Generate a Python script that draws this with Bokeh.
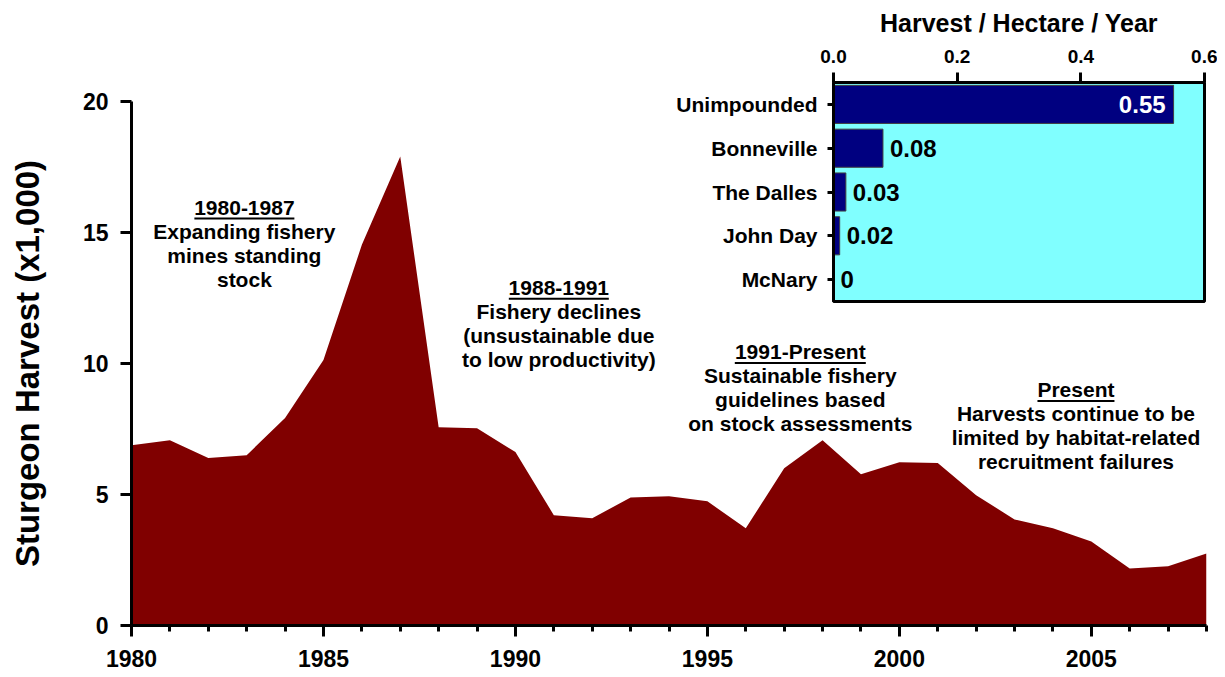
from bokeh.plotting import figure
from bokeh.models import (Range1d, FactorRange, SingleIntervalTicker, FixedTicker,
                          ColumnDataSource, PrintfTickFormatter)
from bokeh.layouts import column, row
from bokeh.core.properties import value
from bokeh.embed import file_html
from bokeh.resources import INLINE

# ---------------- data ----------------
years = list(range(1980, 2009))
harvest = [6.88, 7.07, 6.39, 6.50, 7.92, 10.13, 14.53, 17.90, 7.57, 7.53,
           6.62, 4.21, 4.09, 4.89, 4.93, 4.74, 3.71, 6.00, 7.07, 5.77,
           6.23, 6.20, 4.97, 4.05, 3.71, 3.21, 2.18, 2.26, 2.75]

reaches = ["Unimpounded", "Bonneville", "The Dalles", "John Day", "McNary"]
rate = [0.55, 0.08, 0.02, 0.01, 0.0]
rate_labels = ["0.55", "0.08", "0.03", "0.02", "0"]

note_headers = ["1980-1987", "1988-1991", "1991-Present", "Present"]
note_bodies = [["Expanding fishery", "mines standing", "stock"],
               ["Fishery declines", "(unsustainable due", "to low productivity)"],
               ["Sustainable fishery", "guidelines based", "on stock assessments"],
               ["Harvests continue to be", "limited by habitat-related", "recruitment failures"]]
note_x = [1982.94, 1991.13, 1997.42, 2004.6]
note_y = [15.95, 12.89, 10.44, 8.99]
header_width_px = [100, 100, 131, 77]

FONT = value("Liberation Sans")

# ---------------- main chart ----------------
W, H = 1217, 677
MB_L, MB_R, MB_T = 131, 11, 101
MB_B = H - 625
p = figure(width=W, height=H, x_range=Range1d(1980, 2008), y_range=Range1d(0, 20),
           output_backend="svg", toolbar_location=None,
           min_border_left=MB_L, min_border_right=MB_R,
           min_border_top=MB_T, min_border_bottom=MB_B)
p.outline_line_color = None
p.xgrid.visible = False
p.ygrid.visible = False
p.background_fill_color = "white"
p.border_fill_color = "white"

p.varea(x=years, y1=[0] * len(years), y2=harvest, fill_color="#800000")

px_per_year = (W - MB_L - MB_R) / 28.0
px_per_unit = (H - MB_T - MB_B) / 20.0

# annotations
xs, ys, ts = [], [], []
ux0, ux1, uy = [], [], []
for hdr, body, cx, cy, w in zip(note_headers, note_bodies, note_x, note_y, header_width_px):
    lines = [hdr] + body
    for i, t in enumerate(lines):
        xs.append(cx)
        ys.append(cy - i * 23.8 / px_per_unit)
        ts.append(t)
    ux0.append(cx - w / 2 / px_per_year)
    ux1.append(cx + w / 2 / px_per_year)
    uy.append(cy - 11 / px_per_unit)
p.text(x=xs, y=ys, text=ts, text_font=FONT, text_font_style="bold",
       text_font_size="21px", text_align="center", text_baseline="middle",
       text_color="black")
p.segment(x0=ux0, y0=uy, x1=ux1, y1=uy, line_color="black", line_width=2)

xa = p.xaxis[0]
xa.ticker = SingleIntervalTicker(interval=5, num_minor_ticks=5)
ya = p.yaxis[0]
ya.ticker = SingleIntervalTicker(interval=5, num_minor_ticks=0)
for ax in (xa, ya):
    ax.axis_line_width = 3
    ax.axis_line_color = "black"
    ax.major_tick_line_width = 3
    ax.minor_tick_line_width = 3
    ax.major_tick_in = 0
    ax.minor_tick_in = 0
    ax.major_label_text_font = "Liberation Sans"
    ax.major_label_text_font_style = "bold"
    ax.major_label_text_font_size = "23px"
    ax.major_label_text_color = "black"
xa.major_tick_out = 11
xa.minor_tick_out = 6
xa.major_label_standoff = 13
ya.major_tick_out = 11
ya.minor_tick_line_color = None
ya.major_label_standoff = 12
ya.axis_label = "Sturgeon Harvest (x1,000)"
ya.axis_label_text_font = "Liberation Sans"
ya.axis_label_text_font_style = "bold"
ya.axis_label_text_font_size = "33px"
ya.axis_label_text_color = "black"
ya.axis_label_standoff = 34

# ---------------- inset bar chart ----------------
IL = 660                   # inset figure left edge on the page
IW, IH = 1217 - IL, 305
inset = figure(width=IW, height=IH, x_range=Range1d(0, 0.6),
               y_range=FactorRange(factors=list(reversed(reaches))),
               x_axis_location="above", output_backend="svg", toolbar_location=None,
               min_border_left=833 - IL, min_border_right=IL + IW - 1204,
               min_border_top=82, min_border_bottom=IH - 301)
inset.border_fill_color = None
inset.background_fill_color = "#80FFFF"
inset.outline_line_color = "black"
inset.outline_line_width = 3
inset.xgrid.visible = False
inset.ygrid.visible = False

inset.hbar(y=reaches, left=0, right=rate, height=0.87,
           fill_color="#000080", line_color="#404040", line_width=1)

inside = [i for i, v in enumerate(rate) if v > 0.3]
outside = [i for i, v in enumerate(rate) if v <= 0.3]
src_in = ColumnDataSource(dict(x=[rate[i] for i in inside], y=[reaches[i] for i in inside],
                               t=[rate_labels[i] for i in inside]))
src_out = ColumnDataSource(dict(x=[rate[i] for i in outside], y=[reaches[i] for i in outside],
                                t=[rate_labels[i] for i in outside]))
inset.text(x="x", y="y", text="t", source=src_in, x_offset=-8, text_align="right",
           text_baseline="middle", text_color="white", text_font=FONT,
           text_font_style="bold", text_font_size="24px")
inset.text(x="x", y="y", text="t", source=src_out, x_offset=7, text_align="left",
           text_baseline="middle", text_color="black", text_font=FONT,
           text_font_style="bold", text_font_size="24px")

ix = inset.xaxis[0]
ix.ticker = FixedTicker(ticks=[0, 0.2, 0.4, 0.6])
ix.formatter = PrintfTickFormatter(format="%.1f")
ix.major_tick_out = 10
ix.major_tick_in = 0
ix.minor_tick_line_color = None
ix.major_label_standoff = 10
ix.major_label_text_font_size = "19px"
ix.axis_label = "Harvest / Hectare / Year"
ix.axis_label_text_font = "Liberation Sans"
ix.axis_label_text_font_style = "bold"
ix.axis_label_text_font_size = "25px"
ix.axis_label_text_color = "black"
ix.axis_label_standoff = 10
iy = inset.yaxis[0]
iy.major_tick_out = 6
iy.major_tick_in = 0
iy.major_label_standoff = 10
iy.major_label_text_font_size = "21px"
for ax in (ix, iy):
    ax.axis_line_width = 3
    ax.axis_line_color = "black"
    ax.major_tick_line_width = 3
    ax.major_label_text_font = "Liberation Sans"
    ax.major_label_text_font_style = "bold"
    ax.major_label_text_color = "black"

holder = row(inset, margin=(-H, 0, 0, IL))
layout = column(p, holder, spacing=0)
open("out.html", "w").write(file_html(layout, INLINE))
